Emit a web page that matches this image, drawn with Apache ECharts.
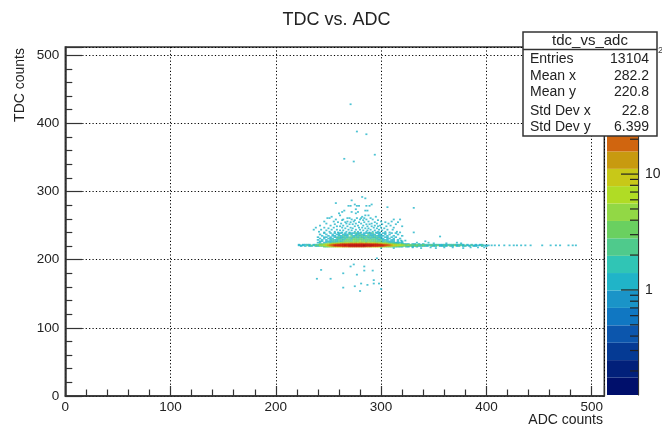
<!DOCTYPE html>
<html><head><meta charset="utf-8">
<style>html,body{margin:0;padding:0;background:#fff}#c{width:662px;height:428px}</style>
<script src="https://cdn.jsdelivr.net/npm/echarts@6/dist/echarts.min.js"></script>
</head><body><div id="c"></div>
<script>
const xTicksMax = 512, yTicksMax = 512;
const statLabels = ['Entries','Mean x','Mean y','Std Dev x','Std Dev y'];
const statValues = ['13104','282.2','220.8','22.8','6.399'];
const levelEdges = [0.124,0.175,0.248,0.35,0.495,0.7,0.99,1.4,1.97,2.79,3.94,5.57,7.87,11.1,15.7,22.2,31.4,44.3,62.6,88.5,125];
const levelColors = ['#000f6b','#02207a','#053a94','#0c56ad','#1077c2','#1a94c8','#20b4c8','#30c5b5','#4fca8c','#6ad060','#92d845','#b0dc25','#c8c818','#c89a10','#d0650f','#d84a10','#d83010','#c81c10','#b80f0d','#a00808'];
const colorbarMinor = [0.2,0.3,0.4,0.5,0.6,0.7,0.8,0.9,2,3,4,5,6,7,8,9,20,30,40,50,60,70,80,90];
const colorbarMajor = [1,10,100];

// Dense rows: counts per 2-wide ADC cell, [tdc, first adc, counts...]
const row219 = [219,246,2,2,3,4,5,6,8,9,10,12,14,15,16,18,17,19,20,18,16,17,15,14,12,11,9,8,7,6,5,4,3,3,2,2,1,2,1,1,0,1,1,0,1,0,1];
const row220 = [220,222,0,1,0,1,0,1,1,0,1,1,2,2,3,4,6,9,12,16,20,24,30,34,38,42,46,48,46,50,48,52,50,48,46,42,46,42,38,34,30,26,20,15,10,8,6,5,4,3,3,2,2,2,1,2,1,1,2,1,1,1,1,1,0,1,1,1,0,1,1,1,1,0,1,1,0,1,1,0,1,1,0,1,0,1,1,0,0,1,0,1];
const row221 = [221,222,1,1,1,0,2,1,2,1,3,2,4,5,7,10,14,20,30,45,50,55,60,58,65,62,70,75,80,78,72,85,80,90,76,70,82,64,60,58,55,50,46,36,26,18,14,10,8,7,6,6,4,3,4,3,2,3,3,2,2,3,2,1,2,3,1,2,3,1,1,2,1,2,2,1,3,1,2,2,1,2,1,1,2,1,1,1,1,2,1,1,1];
const row222 = [222,222,1,0,1,1,1,1,0,1,1,2,3,3,4,6,8,12,18,24,30,34,40,45,50,48,52,58,56,50,60,62,58,60,55,52,58,50,46,45,46,34,28,20,16,12,9,7,5,4,4,3,3,2,3,2,2,1,2,2,1,2,1,2,1,1,2,1,1,1,1,1,1,1,1,2,1,1,1,1,1,0,1,0,1,0,1,0,1,1,0,0];
const row223 = [223,242,2,2,3,4,5,6,8,10,12,14,16,18,20,22,24,26,24,28,26,30,28,26,26,24,25,22,20,18,15,12,10,8,6,5,4,3,3,2,2,2,1,1,1,0,1,1,0,1,0,1];
const row224 = [224,252,2,3,4,5,6,7,8,9,10,10,12,11,12,11,13,12,11,12,10,11,10,9,8,7,6,5,4,3,2,2,1,1,1,0,1];
const row225 = [225,240,1,1,0,1,1,2,1,2,1,2,2,3,2,3,4,3,4,3,5,4,4,5,4,3,4,3,4,3,2,3,3,2,2,2,1,1,2,1,1,1,1];
const row227 = [227,240,0,1,1,0,1,1,1,1,2,1,2,1,2,3,2,3,2,4,3,3,4,3,3,2,3,3,2,3,2,2,2,1,2,1,1,1,1,0,1,0,1];
const row229 = [229,240,1,0,1,0,1,0,1,2,1,1,2,2,1,2,3,2,2,3,3,2,3,2,3,2,2,3,2,2,2,1,2,1,1,1,0,1,1,0,1,0,0];
const row231 = [231,240,0,1,0,1,0,1,1,1,0,2,1,1,2,1,2,2,1,3,2,2,2,3,1,2,2,1,2,2,1,2,1,1,0,1,1,0,1,0,0,1,0];
const row233 = [233,240,1,0,0,1,1,0,1,0,1,1,2,1,1,2,1,2,2,1,2,1,2,1,2,2,1,2,1,1,2,1,1,0,1,1,0,1,0,1,0,0,0];
const row235 = [235,240,0,0,1,0,0,1,0,1,1,0,1,1,2,1,1,0,2,1,1,2,1,2,1,1,2,1,1,2,1,1,1,1,0,1,0,0,1,0,0,0,1];
const row237 = [237,240,0,1,0,0,1,0,0,1,0,1,1,0,1,1,1,2,1,0,1,1,2,1,1,0,2,1,1,1,0,1,1,0,1,0,1,0,0,0,1,0,0];
const row239 = [239,240,0,0,0,1,0,0,1,0,1,0,1,1,0,1,0,1,1,1,2,1,1,0,1,1,1,1,2,0,1,1,0,1,1,0,0,1,0,1,0,0,0];
const denseRows = [row239,row237,row235,row233,row231,row229,row227,row225,row224,row219,row223,row220,row222,row221];

// Sparse cells with one count: [tdc, adc, adc, ...]
const sparseRows = [
 [428,271],[388,277],[384,286],[354,294],[348,265],[344,274],[276,331],
 [292,282],[290,285],[287,272],[283,257],[281,275,291],
 [279,269,271,277,279,286,289],[277,306],[274,276],[272,265,285,287],
 [270,263,272,278],[268,260,276],[265,261,285,288],[263,253,282,295],
 [261,249,251,268,270,277,281,284,290],[259,257,264,272,280,286,292,312,318],
 [258,263,275,283,297],[256,246,255,268,274,288,300,310],
 [255,259,266,271,279,284,294,304,316],[253,248,262,267,276,281,291,296,307],
 [252,256,270,273,286,289,301,314],[250,242,252,264,278,283,294,299,309],
 [249,258,261,268,275,287,291,297,305,320],[247,238,246,255,263,271,279,282,293,300,312],
 [246,250,266,273,285,288,296,303],[244,236,243,253,258,269,276,280,290,298,306,311],
 [243,248,261,264,272,283,287,294,301],[241,241,251,256,267,275,278,286,292,297,304,315],
 [240,246,259,263,270,281,289,295,299,308,318,331],[234,356],[228,319,323],[227,342],[225,334,345,372],[224,350,362,376],
 [221,405,408,412,417,422,426,429,433,437,442,453,461,466,470,478,482,485],
 [218,330,347,360,368,385,392,398],[217,300,312,338,352,378],
 [202,296],[193,274],[190,271,284],[185,243],[184,284,292],[180,264],[178,277],
 [172,239,252],[170,293],[165,281,293,298],[163,287],[161,275],[159,264],[157,300],[154,280]
];

const denseCells = [];
denseRows.forEach(r => r.slice(2).forEach((c,i) => { if (c>0) denseCells.push([r[1]+2*i, r[0], c]); }));
const sparseCells = [];
sparseRows.forEach(r => r.slice(1).forEach(x => sparseCells.push([x, r[0], 1])));

function colorOf(c){
  for (let i=0;i<levelColors.length;i++) if (c < levelEdges[i+1]) return levelColors[i];
  return levelColors[levelColors.length-1];
}
const barData = levelColors.map((col,i)=>[levelEdges[i],levelEdges[i+1],i]);
const FONT = '"Liberation Sans", Arial, sans-serif';
const INK = '#333';

const chart = echarts.init(document.getElementById('c'),null,{renderer:'canvas'});
const statGraphics = [
  {type:'text',x:603,y:420,style:{text:'ADC counts',font:'14px '+FONT,fill:'#222',textAlign:'right',textVerticalAlign:'middle'},z:101},
  {type:'rect',shape:{x:523,y:32,width:134,height:104},style:{fill:'#fff',stroke:INK,lineWidth:1.5},z:100},
  {type:'line',shape:{x1:523,y1:49.5,x2:657,y2:49.5},style:{stroke:INK,lineWidth:1.5},z:101},
  {type:'text',x:590,y:41,style:{text:'tdc_vs_adc',font:'15px '+FONT,fill:'#222',textAlign:'center',textVerticalAlign:'middle'},z:101},
  {type:'text',x:658,y:51,style:{text:'2',font:'9px '+FONT,fill:'#444',textAlign:'left',textVerticalAlign:'middle'},z:101}
];
const statY=[59,76,92,111,127];
statLabels.forEach((s,i)=>{
  statGraphics.push({type:'text',x:530,y:statY[i],style:{text:s,font:'14px '+FONT,fill:'#222',textAlign:'left',textVerticalAlign:'middle'},z:101});
  statGraphics.push({type:'text',x:649,y:statY[i],style:{text:statValues[i],font:'14px '+FONT,fill:'#222',textAlign:'right',textVerticalAlign:'middle'},z:101});
});

function tickItem(len){
  return (p,api)=>{
    const v=api.value(0); const a=api.coord([1,v]);
    return {type:'line',shape:{x1:a[0],y1:a[1],x2:a[0]-len,y2:a[1]},style:{stroke:'#222',lineWidth:1.2}};
  };
}
const cellStyle = {color:p=>colorOf(p.data[2])};

chart.setOption({
  animation:false,
  backgroundColor:'#fff',
  textStyle:{fontFamily:FONT},
  title:{text:'TDC vs. ADC',left:331.5,top:6,textAlign:'center',textStyle:{fontSize:18,fontWeight:'normal',color:'#222',fontFamily:FONT}},
  grid:[
    {left:65.3,top:47,width:539,height:349,outerBoundsMode:'none',show:true,borderColor:INK,borderWidth:1.5,backgroundColor:'transparent'},
    {left:607,top:47,width:31,height:348,outerBoundsMode:'none',show:false}
  ],
  xAxis:[
    {type:'value',gridIndex:0,min:0,max:xTicksMax,interval:100,
     axisLine:{onZero:false,lineStyle:{color:INK,width:1.5}},
     axisTick:{inside:true,length:10,lineStyle:{color:INK,width:1.2}},
     minorTick:{show:true,splitNumber:5,length:6.5,lineStyle:{color:INK,width:1.2}},
     axisLabel:{fontSize:13.5,color:'#222',margin:4,showMaxLabel:false},
     splitLine:{show:true,lineStyle:{type:[1.2,2.2],color:'#000',width:1}}},
    {type:'value',gridIndex:1,min:0,max:1,show:false}
  ],
  yAxis:[
    {type:'value',gridIndex:0,min:0,max:yTicksMax,interval:100,
     name:'TDC counts',nameLocation:'end',nameRotate:90,nameGap:-1,
     nameTextStyle:{fontSize:14,color:'#222',align:'right',verticalAlign:'bottom',padding:[0,0,38,0]},
     axisLine:{onZero:false,lineStyle:{color:INK,width:1.5}},
     axisTick:{inside:true,length:17,lineStyle:{color:INK,width:1.2}},
     minorTick:{show:true,splitNumber:5,length:7,lineStyle:{color:INK,width:1.2}},
     axisLabel:{fontSize:13.5,color:'#222',margin:6,showMaxLabel:false},
     splitLine:{show:true,lineStyle:{type:[1.2,2.2],color:'#000',width:1}}},
    {type:'log',gridIndex:1,min:0.124,max:125,logBase:10,position:'right',
     axisLine:{show:true,onZero:false,lineStyle:{color:INK,width:1.2}},
     axisTick:{show:false},splitLine:{show:false},
     axisLabel:{fontSize:14,color:'#222',margin:7,showMinLabel:false,showMaxLabel:false,
       formatter:v=>(Math.abs(v-1)<1e-6?'1':Math.abs(v-10)<1e-6?'10':'')}}
  ],
  series:[
    {type:'scatter',name:'sparse',xAxisIndex:0,yAxisIndex:0,data:sparseCells,symbol:'rect',symbolSize:[2,1.7],itemStyle:cellStyle,z:3,silent:true},
    {type:'scatter',name:'dense',xAxisIndex:0,yAxisIndex:0,data:denseCells,symbol:'rect',symbolSize:[2.4,1.7],itemStyle:cellStyle,z:4,silent:true},
    {type:'custom',name:'palette',xAxisIndex:1,yAxisIndex:1,data:barData,silent:true,z:2,clip:false,
     renderItem:(p,api)=>{
       const lo=api.coord([0,api.value(0)]),hi=api.coord([1,api.value(1)]);
       return {type:'rect',shape:{x:lo[0],y:hi[1],width:hi[0]-lo[0],height:lo[1]-hi[1]},style:{fill:levelColors[api.value(2)]}};
     }},
    {type:'custom',name:'minorTicks',xAxisIndex:1,yAxisIndex:1,data:colorbarMinor.map(v=>[v]),silent:true,z:5,renderItem:tickItem(8)},
    {type:'custom',name:'majorTicks',xAxisIndex:1,yAxisIndex:1,data:colorbarMajor.map(v=>[v]),silent:true,z:5,renderItem:tickItem(17)}
  ],
  graphic:statGraphics
});
</script></body></html>
